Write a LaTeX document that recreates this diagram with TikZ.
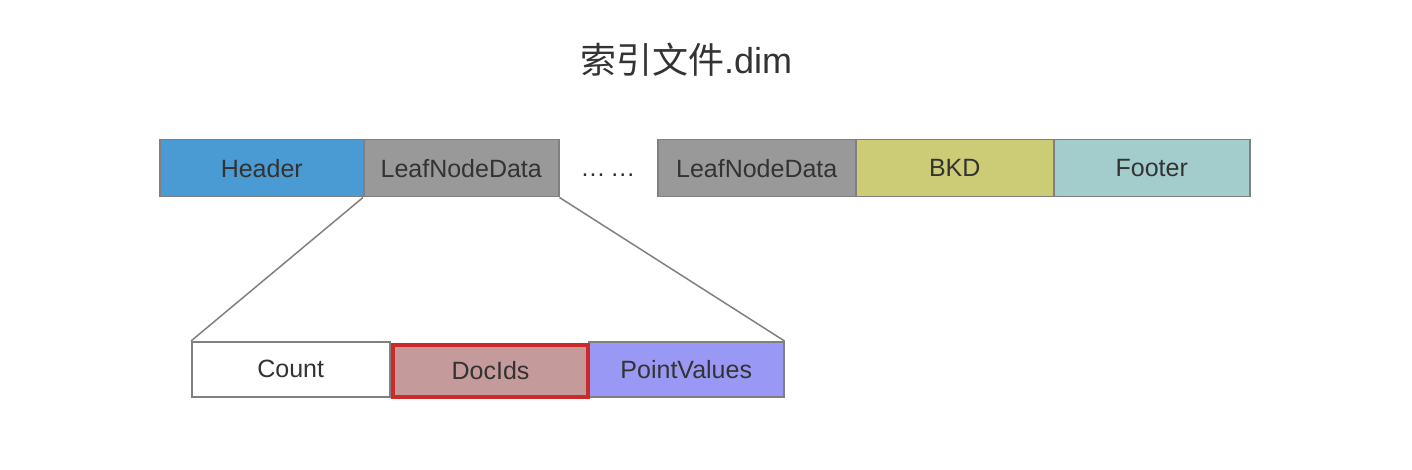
\documentclass[tikz,border=0pt]{standalone}
\usepackage{fontspec}
\setmainfont{Liberation Sans}
\newfontfamily\cjk{Noto Sans CJK SC}
\definecolor{bordergray}{HTML}{808080}
\definecolor{headerblue}{HTML}{4A9BD4}
\definecolor{leafgray}{HTML}{999999}
\definecolor{bkdyellow}{HTML}{CCCC77}
\definecolor{footerteal}{HTML}{A3CCCC}
\definecolor{docidsfill}{HTML}{C49A9A}
\definecolor{docidsred}{HTML}{CC2929}
\definecolor{pvblue}{HTML}{9999F5}
\definecolor{txt}{HTML}{333333}
\begin{document}
\begin{tikzpicture}[x=1pt,y=-1pt,
  cell/.style={draw=bordergray,line width=1.5pt,minimum height=57pt,inner sep=0pt,
    text=txt,font=\fontsize{25}{30}\selectfont,anchor=north west},
  link/.style={draw=bordergray,line width=1.5pt}]
\useasboundingbox (0,0) rectangle (1412,470);
\node[text=txt,font=\fontsize{36}{42}\selectfont] (title) at (686,60) {{\cjk 索引文件}.dim};
\node[cell,fill=headerblue,minimum width=204pt] (header) at (159,139) {Header};
\node[cell,fill=leafgray,minimum width=195pt] (leaf1) at (363,139) {LeafNodeData};
\node[text=txt,font=\fontsize{25}{30}\selectfont,inner sep=0pt] (dots) at (608,175) {.\kern1pt.\kern1pt.\ .\kern1pt.\kern1pt.};
\node[cell,fill=leafgray,minimum width=198pt] (leaf2) at (657,139) {LeafNodeData};
\node[cell,fill=bkdyellow,minimum width=198pt] (bkd) at (855,139) {BKD};
\node[cell,fill=footerteal,minimum width=196pt] (footer) at (1053,139) {Footer};
\node[cell,fill=white,minimum width=198pt,minimum height=55pt] (count) at (191,341) {Count};
\node[cell,fill=pvblue,minimum width=195pt,minimum height=55pt] (pv) at (588,341) {PointValues};
\node[cell,fill=docidsfill,draw=docidsred,line width=4pt,minimum width=195pt,minimum height=52pt] (docids) at (391,343) {DocIds};
\draw[link] (leaf1.south west) -- (count.north west);
\draw[link] (leaf1.south east) -- (pv.north east);
\end{tikzpicture}
\end{document}
